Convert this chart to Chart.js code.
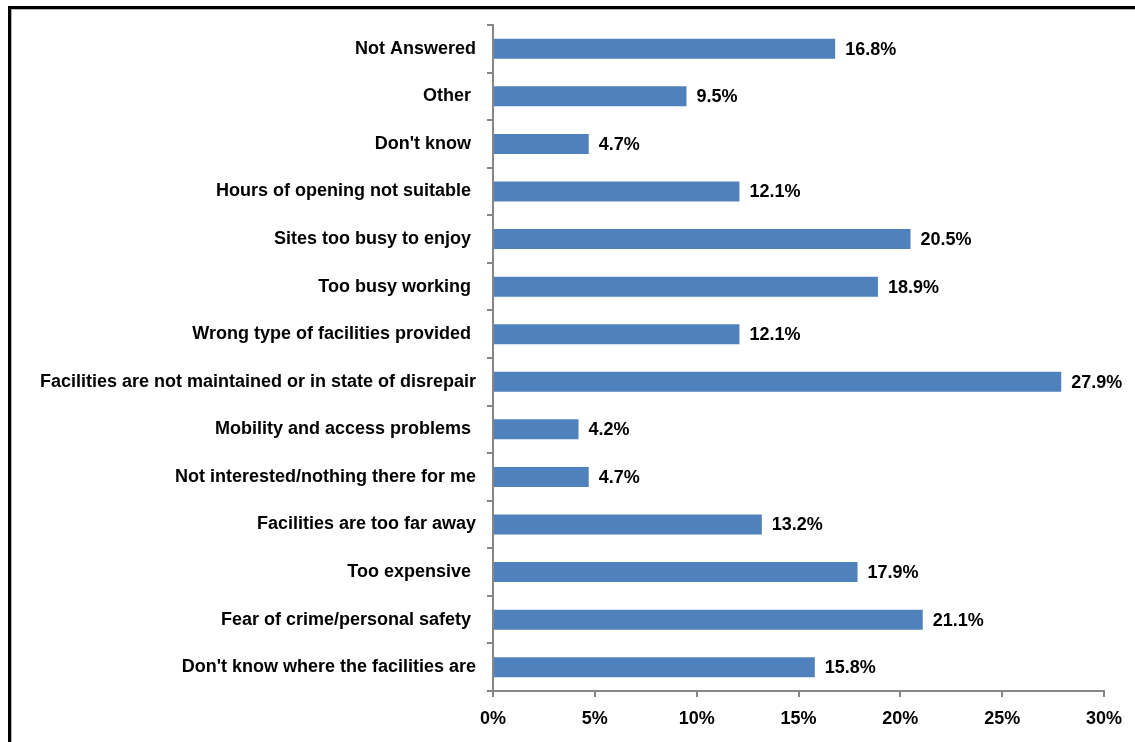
<!DOCTYPE html>
<html>
<head>
<meta charset="utf-8">
<script src="https://cdn.jsdelivr.net/npm/chart.js@4.4.0/dist/chart.umd.min.js"></script>
<style>
  html, body { margin: 0; padding: 0; background: #fff; overflow: hidden; }
  #wrap { position: relative; width: 1135px; height: 742px; }
  /* рамка слева и сверху, как у вставленного графика */
  #frame {
    position: absolute; left: 8px; top: 6px; width: 2000px; height: 2000px;
    border-left: 3px solid #000; border-top: 3px solid #000;
    box-shadow: inset 1px 1px 0 #b8b8b8;
  }
  #chart { position: absolute; left: 0; top: 0; }
</style>
</head>
<body>
<div id="wrap">
  <div id="frame"></div>
  <canvas id="chart" width="1135" height="742"></canvas>
</div>
<script>
// Причины (сверху вниз) и доли ответов, %
// (хвостовые пробелы в подписях - как в исходной таблице)
const reasons = [
  'Not Answered',
  'Other ',
  "Don't know ",
  'Hours of opening not suitable ',
  'Sites too busy to enjoy ',
  'Too busy working ',
  'Wrong type of facilities provided ',
  'Facilities are not maintained or in state of disrepair',
  'Mobility and access problems ',
  'Not interested/nothing there for me',
  'Facilities are too far away',
  'Too expensive ',
  'Fear of crime/personal safety ',
  "Don't know where the facilities are"
];
const shares = [16.8, 9.5, 4.7, 12.1, 20.5, 18.9, 12.1, 27.9, 4.2, 4.7, 13.2, 17.9, 21.1, 15.8];
const xTicks = [0, 5, 10, 15, 20, 25, 30];

const FONT = "'Liberation Sans', Arial, sans-serif";
const AXIS = '#868686';

// подписи значений справа от столбиков
const valueLabels = {
  id: 'valueLabels',
  afterDatasetsDraw(chart) {
    const ctx = chart.ctx;
    const meta = chart.getDatasetMeta(0);
    ctx.save();
    ctx.font = 'bold 18px ' + FONT;
    ctx.fillStyle = '#000';
    ctx.textAlign = 'left';
    ctx.textBaseline = 'middle';
    meta.data.forEach((bar, i) => {
      ctx.fillText(shares[i].toFixed(1) + '%', bar.x + 10, bar.y + 1);
    });
    ctx.restore();
  }
};

new Chart(document.getElementById('chart'), {
  type: 'bar',
  data: {
    labels: reasons,
    datasets: [{
      data: shares,
      backgroundColor: '#4F81BD',
      borderWidth: 0,
      barPercentage: 0.42,
      categoryPercentage: 1
    }]
  },
  options: {
    indexAxis: 'y',
    responsive: false,
    animation: false,
    devicePixelRatio: 1,
    layout: { padding: { top: 25, right: 31, left: 0, bottom: 0 } },
    plugins: { legend: { display: false }, tooltip: { enabled: false } },
    scales: {
      x: {
        min: 0, max: 30,
        afterBuildTicks: s => { s.ticks = xTicks.map(v => ({ value: v })); },
        afterFit: s => { s.height = 51; },
        border: { color: AXIS, width: 2 },
        grid: { drawOnChartArea: false, drawTicks: true, tickLength: 6, color: AXIS, lineWidth: 2 },
        ticks: {
          callback: v => v + '%',
          color: '#000',
          font: { family: FONT, size: 18, weight: 'bold' },
          padding: 11,
          maxRotation: 0
        }
      },
      y: {
        afterFit: s => { s.width = 493; },
        border: { color: AXIS, width: 2 },
        grid: { offset: true, drawOnChartArea: false, drawTicks: true, tickLength: 6, color: AXIS, lineWidth: 2 },
        ticks: {
          color: '#000',
          font: { family: FONT, size: 18, weight: 'bold' },
          padding: 11,
          autoSkip: false
        }
      }
    }
  },
  plugins: [valueLabels]
});
</script>
</body>
</html>
